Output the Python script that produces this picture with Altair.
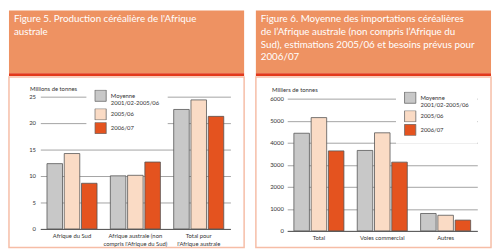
import altair as alt
import pandas as pd

# ---- data -------------------------------------------------------------
SERIES = ["Moyenne\n2001/02-2005/06", "2005/06", "2006/07"]
COLORS = ["#C8C8C8", "#FADBC5", "#E4531F"]

TITLE5 = ["Figure 5. Production céréalière de l'Afrique", "australe"]
CATS5 = ["Afrique du Sud",
         "Afrique australe (non\ncompris l'Afrique du Sud)",
         "Total pour\nl'Afrique australe"]
MOY5 = [12.3, 10.0, 22.5]
V0506_5 = [14.2, 10.1, 24.3]
V0607_5 = [8.6, 12.6, 21.2]
YTICKS5 = [0, 5, 10, 15, 20, 25]
YTITLE5 = "Millions de tonnes"

TITLE6 = ["Figure 6. Moyenne des importations céréalières",
          "de l’Afrique australe (non compris l’Afrique du",
          "Sud), estimations 2005/06 et besoins prévus pour",
          "2006/07"]
CATS6 = ["Total", "Voies commercial", "Autres"]
MOY6 = [4430, 3650, 790]
V0506_6 = [5140, 4450, 710]
V0607_6 = [3630, 3120, 490]
YTICKS6 = [0, 1000, 2000, 3000, 4000, 5000, 6000]
YTITLE6 = "Milliers de tonnes"


def long_df(cats, cols):
    rows = []
    for s, vals in zip(SERIES, cols):
        for c, v in zip(cats, vals):
            rows.append({"cat": c, "serie": s, "val": v})
    return pd.DataFrame(rows)


# ---- style --------------------------------------------------------------
ORANGE = "#EE9262"
RED = "#E2391A"
PINK = "#F6BDA6"
FONT = "Lato"
TXT = "#333333"
PW = 240
HH = 64
SH = 3
BH = 174


def header(lines):
    return alt.Chart(pd.DataFrame({"k": [0]})).mark_rect(color=ORANGE).properties(
        width=PW, height=HH,
        title=alt.TitleParams(text=lines, anchor="start", frame="group",
                              orient="bottom", offset=-(HH - 4), dx=5,
                              baseline="top", fontSize=10, lineHeight=13,
                              font=FONT, color="white", fontWeight="normal"))


def stripe():
    return alt.Chart(pd.DataFrame({"k": [0]})).mark_rect(color=RED).properties(
        width=PW, height=SH)


def body(df, cats, ymax, yvals, yrange, ytitle, title_x, title_y, label_pad,
         legend_x, legend_y):
    x_off = -(BH - yrange[0])
    return alt.Chart(df).mark_bar(stroke="#555555", strokeWidth=0.8).encode(
        x=alt.X("cat:N", sort=cats,
                scale=alt.Scale(range=[32, 226], paddingInner=0.21, paddingOuter=0.105),
                axis=alt.Axis(title=None, labelAngle=0,
                              labelExpr="split(datum.label, '\\n')",
                              labelFontSize=6, labelLineHeight=7.5, labelPadding=4,
                              labelColor=TXT, labelFont=FONT, labelBaseline="top",
                              domainColor="#555555", domainWidth=1, ticks=False,
                              offset=x_off)),
        xOffset=alt.XOffset("serie:N", sort=SERIES,
                            scale=alt.Scale(paddingInner=0.1, paddingOuter=0)),
        y=alt.Y("val:Q",
                scale=alt.Scale(domain=[0, ymax], range=list(yrange), nice=False),
                axis=alt.Axis(values=yvals, format="d", title=ytitle, titleAngle=0,
                              titleAlign="left", titleBaseline="middle",
                              titleX=title_x, titleY=title_y, titleFontSize=6,
                              titleFontWeight="normal", titleFont=FONT,
                              titleColor=TXT, labelFontSize=6, labelFont=FONT,
                              labelPadding=label_pad, labelColor=TXT, ticks=False,
                              domain=False, grid=True, gridColor="#8a8a8a",
                              gridWidth=0.8, offset=-32)),
        color=alt.Color("serie:N", sort=SERIES,
                        scale=alt.Scale(domain=SERIES, range=COLORS),
                        legend=alt.Legend(title=None, orient="none", legendX=legend_x,
                                          legendY=legend_y, fillColor="white",
                                          padding=8, symbolType="square",
                                          symbolSize=132, symbolStrokeColor="#666666",
                                          symbolStrokeWidth=0.8, symbolOpacity=1,
                                          labelFontSize=6, labelFont=FONT,
                                          labelColor=TXT,
                                          labelExpr="split(datum.label, '\\n')",
                                          rowPadding=2, clipHeight=12, labelOffset=4,
                                          labelLimit=0)),
    ).properties(width=PW, height=BH,
                 view=alt.ViewBackground(stroke=PINK, strokeWidth=1.5))


df5 = long_df(CATS5, [MOY5, V0506_5, V0607_5])
df6 = long_df(CATS6, [MOY6, V0506_6, V0607_6])

left = alt.vconcat(
    header(TITLE5), stripe(),
    body(df5, CATS5, 25, YTICKS5, (155, 19.5), YTITLE5, -11, 11.5, 5, 79, 5),
    spacing=0).resolve_legend(color="independent").resolve_scale(color="independent")
right = alt.vconcat(
    header(TITLE6), stripe(),
    body(df6, CATS6, 6000, YTICKS6, (157, 22), YTITLE6, -16, 12.5, 4, 143, 7),
    spacing=0).resolve_legend(color="independent").resolve_scale(color="independent")

chart = alt.hconcat(left, right, spacing=10).properties(padding=0).resolve_legend(
    color="independent").resolve_scale(color="independent").configure_view(
    strokeWidth=0).configure(font=FONT)

chart.save("out.html", embed_options={"renderer": "svg", "actions": False})
